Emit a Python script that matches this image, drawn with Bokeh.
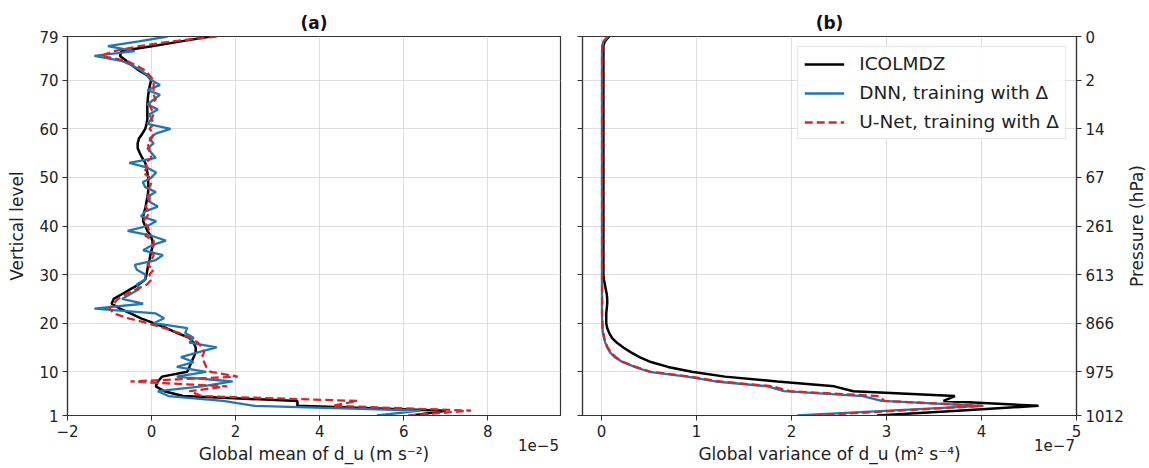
import math
from bokeh.plotting import figure
from bokeh.models import Range1d, FixedTicker, LinearAxis, Label
from bokeh.layouts import row
from bokeh.embed import file_html
from bokeh.resources import INLINE

# ---------------- data (levels 1..79) ----------------
levels = list(range(1, 80))

# Global mean of d_u, in units of 1e-5 m s^-2
mean_icolmdz = [6.2, 7.0, 3.47, 3.47, 0.75, 0.3, 0.1, 0.15, 0.25, 0.85,
                0.9, 0.95, 1.0, 1.05, 1.05, 1.0, 0.9, 0.6, 0.35, 0.05,
                -0.25, -0.5, -0.75, -0.95, -0.9, -0.7, -0.5, -0.3, -0.15, -0.12,
                -0.1, -0.08, -0.05, -0.03, 0.0, 0.03, 0.02, -0.02, -0.1, -0.15,
                -0.2, -0.2, -0.17, -0.14, -0.12, -0.1, -0.08, -0.08, -0.08, -0.08,
                -0.1, -0.12, -0.15, -0.22, -0.28, -0.33, -0.33, -0.3, -0.22, -0.15,
                -0.12, -0.1, -0.1, -0.1, -0.1, -0.09, -0.08, -0.06, -0.04, -0.01,
                -0.1, -0.3, -0.45, -0.6, -0.75, -0.72, 0.0, 0.7, 1.4]
mean_dnn = [5.36, 6.4, 2.45, 1.7, 0.4, 0.15, 1.2, 1.93, 0.6, 1.3,
            0.6, 1.0, 0.7, 1.1, 1.55, 0.9, 1.0, 0.8, 0.85, 0.05,
            0.3, 0.1, -1.36, -0.2, -0.7, -0.5, -0.3, -0.35, -0.15, -0.15,
            -0.35, -0.4, 0.1, 0.27, -0.2, 0.0, 0.34, 0.0, -0.57, -0.1,
            0.11, -0.25, -0.15, 0.15, -0.05, -0.1, 0.1, -0.15, -0.21, 0.0,
            0.11, -0.1, -0.53, 0.1, 0.0, -0.1, 0.05, -0.05, 0.1, 0.45,
            -0.1, 0.0, -0.05, 0.15, -0.1, 0.05, 0.2, -0.1, 0.2, 0.0,
            -0.1, -0.25, -0.45, -0.72, -1.36, -0.4, -1.04, -0.3, 0.38]
mean_unet = [6.1, 7.6, 4.3, 4.9, 1.2, 0.9, 1.8, -0.5, 2.05, 1.4,
             1.3, 1.25, 1.2, 1.25, 1.2, 1.1, 0.9, 0.65, 0.3, -0.1,
             -0.55, -0.9, -1.0, -0.9, -0.8, -0.6, -0.35, -0.1, 0.0, -0.05,
             0.05, -0.1, 0.0, 0.05, 0.0, 0.05, 0.05, -0.15, -0.05, -0.1,
             -0.2, -0.1, -0.05, -0.15, -0.05, -0.05, -0.1, -0.05, 0.0, -0.05,
             -0.2, -0.1, -0.15, 0.0, -0.05, -0.05, -0.1, 0.0, 0.05, -0.05,
             0.05, 0.0, 0.05, 0.0, -0.05, 0.1, 0.05, 0.05, 0.05, 0.05,
             -0.05, -0.15, -0.35, -0.6, -1.2, -0.9, -0.3, 0.5, 1.55]

# Global variance of d_u, in units of 1e-7 m^2 s^-4
var_icolmdz = [2.9, 3.75, 4.6, 3.6, 3.72, 2.65, 2.45, 1.85, 1.3, 0.95,
               0.7, 0.52, 0.4, 0.31, 0.23, 0.16, 0.11, 0.08, 0.06, 0.05,
               0.05, 0.05, 0.055, 0.06, 0.06, 0.055, 0.045, 0.035, 0.025, 0.02,
               0.02, 0.02, 0.02, 0.02, 0.02, 0.02, 0.02, 0.02, 0.02, 0.02,
               0.02, 0.02, 0.02, 0.02, 0.02, 0.02, 0.02, 0.02, 0.02, 0.02,
               0.02, 0.02, 0.02, 0.02, 0.02, 0.02, 0.02, 0.02, 0.02, 0.02,
               0.02, 0.02, 0.02, 0.02, 0.02, 0.02, 0.02, 0.02, 0.02, 0.02,
               0.02, 0.02, 0.02, 0.02, 0.02, 0.02, 0.02, 0.035, 0.08]
var_dnn = [2.06, 3.03, 4.0, 2.95, 2.75, 1.92, 1.75, 1.2, 0.9, 0.5,
           0.35, 0.22, 0.14, 0.09, 0.06, 0.04, 0.025, 0.015, 0.01, 0.008,
           0.006, 0.005, 0.005, 0.005, 0.005, 0.005, 0.005, 0.005, 0.005, 0.005,
           0.005, 0.005, 0.005, 0.005, 0.005, 0.005, 0.005, 0.005, 0.005, 0.005,
           0.005, 0.005, 0.005, 0.005, 0.005, 0.005, 0.005, 0.005, 0.005, 0.005,
           0.005, 0.005, 0.005, 0.005, 0.005, 0.005, 0.005, 0.005, 0.005, 0.005,
           0.005, 0.005, 0.005, 0.005, 0.005, 0.005, 0.005, 0.005, 0.005, 0.005,
           0.005, 0.005, 0.005, 0.005, 0.005, 0.006, 0.008, 0.02, 0.07]
var_unet = [2.24, 3.13, 4.02, 2.98, 2.92, 1.98, 1.8, 1.25, 0.93, 0.52,
            0.36, 0.23, 0.15, 0.1, 0.065, 0.045, 0.03, 0.02, 0.012, 0.01,
            0.007, 0.006, 0.006, 0.006, 0.006, 0.006, 0.006, 0.006, 0.006, 0.006,
            0.006, 0.006, 0.006, 0.006, 0.006, 0.006, 0.006, 0.006, 0.006, 0.006,
            0.006, 0.006, 0.006, 0.006, 0.006, 0.006, 0.006, 0.006, 0.006, 0.006,
            0.006, 0.006, 0.006, 0.006, 0.006, 0.006, 0.006, 0.006, 0.006, 0.006,
            0.006, 0.006, 0.006, 0.006, 0.006, 0.006, 0.006, 0.006, 0.006, 0.006,
            0.006, 0.006, 0.006, 0.006, 0.006, 0.006, 0.008, 0.02, 0.07]

level_ticks = [1, 10, 20, 30, 40, 50, 60, 70, 79]
pressure_labels = ["1012", "975", "866", "613", "261", "67", "14", "2", "0"]
mean_ticks = [-2, 0, 2, 4, 6, 8]
var_ticks = [0, 1, 2, 3, 4, 5]

FONT = "DejaVu Sans"
C_BLACK = "#000000"
C_BLUE = "#1f77b4"
C_RED = "#d62728"
SPINE = "#333333"
FIG_H = 468
FRAME_W1 = 493
FRAME_W2 = 494
BORDER_L1 = 67
BORDER_L2 = 11
BORDER_R2 = 73
WIDTH1 = BORDER_L1 + FRAME_W1 + 11
WIDTH2 = 1149 - WIDTH1


def style_axis(ax):
    ax.axis_line_color = SPINE
    ax.axis_line_width = 1.2
    ax.major_tick_line_color = SPINE
    ax.major_tick_out = 5
    ax.major_tick_in = 0
    ax.minor_tick_line_color = None
    ax.major_label_text_font = FONT
    ax.major_label_text_font_size = "15px"
    ax.major_label_text_color = "#222222"
    ax.major_label_standoff = 4
    ax.axis_label_text_font = FONT
    ax.axis_label_text_font_size = "17px"
    ax.axis_label_text_font_style = "normal"
    ax.axis_label_text_color = "#222222"


def bare_axis(ax):
    style_axis(ax)
    ax.axis_line_color = None
    ax.major_tick_line_color = None
    ax.major_tick_out = 0


def base_figure(width, title, xr, bl, br):
    p = figure(width=width, height=FIG_H, output_backend="svg", toolbar_location=None,
               x_range=xr, y_range=Range1d(1, 79), title=title,
               min_border_left=bl, min_border_right=br, min_border_top=36, min_border_bottom=53)
    p.title.align = "center"
    p.title.text_font = FONT
    p.title.text_font_size = "17px"
    p.title.text_font_style = "bold"
    p.title.text_color = "#111111"
    p.title.standoff = 8
    p.outline_line_color = SPINE
    p.outline_line_width = 1.2
    p.outline_line_alpha = 1.0
    p.background_fill_color = "white"
    p.border_fill_color = "white"
    for ax in p.axis:
        style_axis(ax)
    p.xgrid.grid_line_color = "#dedede"
    p.ygrid.grid_line_color = "#dedede"
    p.xgrid.grid_line_width = 1
    p.ygrid.grid_line_width = 1
    p.yaxis.ticker = FixedTicker(ticks=level_ticks)
    return p


def add_offset_axis(p, frame_w, offset_text, label):
    # second bottom axis (pixel range) carrying the "1e-N" multiplier and the axis title
    p.extra_x_ranges = {"px": Range1d(0, frame_w)}
    pos = frame_w - 22
    ax = LinearAxis(x_range_name="px", ticker=FixedTicker(ticks=[pos]),
                    major_label_overrides={pos: offset_text}, axis_label=label)
    bare_axis(ax)
    ax.major_label_standoff = -1
    ax.axis_label_standoff = -10
    p.add_layout(ax, "below")


# ---------------- panel (a) ----------------
p1 = base_figure(WIDTH1, "(a)", Range1d(-2, 9.73), BORDER_L1, 11)
p1.xaxis.ticker = FixedTicker(ticks=mean_ticks)
p1.xaxis.major_label_overrides = {t: str(t).replace("-", "\u2212") for t in mean_ticks}
p1.yaxis.axis_label = "Vertical level"
p1.yaxis.axis_label_standoff = 9
add_offset_axis(p1, FRAME_W1, "1e\u22125", "Global mean of d_u (m s\u207b\u00b2)")

p1.line(mean_icolmdz, levels, line_color=C_BLACK, line_width=2.5)
p1.line(mean_dnn, levels, line_color=C_BLUE, line_width=2.3)
p1.line(mean_unet, levels, line_color=C_RED, line_width=2.3, line_dash="8 4")

# ---------------- panel (b) ----------------
p2 = base_figure(WIDTH2, "(b)", Range1d(-0.2, 5.0), BORDER_L2, BORDER_R2)
p2.xaxis.ticker = FixedTicker(ticks=var_ticks)
p2.yaxis.major_label_text_font_size = "0px"
p2.yaxis.major_label_overrides = {t: "" for t in level_ticks}
p2.yaxis.major_label_standoff = 0
add_offset_axis(p2, FRAME_W2, "1e\u22127", "Global variance of d_u (m\u00b2 s\u207b\u2074)")

right_ax = LinearAxis(ticker=FixedTicker(ticks=level_ticks),
                      major_label_overrides=dict(zip(level_ticks, pressure_labels)))
style_axis(right_ax)
p2.add_layout(right_ax, "right")

# right-hand axis title, reading upwards, centred on the frame (canvas coordinates)
p2.add_layout(Label(x=WIDTH2 - 13, y=36 + 379 / 2, x_units="canvas", y_units="canvas",
                    text="Pressure (hPa)", angle=math.pi / 2, text_align="center",
                    text_baseline="middle", text_font=FONT, text_font_size="17px",
                    text_color="#222222"), "right")

p2.line(var_icolmdz, levels, line_color=C_BLACK, line_width=2.5, legend_label="ICOLMDZ")
p2.line(var_dnn, levels, line_color=C_BLUE, line_width=2.3, legend_label="DNN, training with \u0394")
p2.line(var_unet, levels, line_color=C_RED, line_width=2.3, line_dash="8 4",
        legend_label="U-Net, training with \u0394")

lg = p2.legend[0]
lg.location = "top_right"
lg.margin = 10
lg.padding = 6
lg.spacing = 8
lg.glyph_width = 40
lg.glyph_height = 20
lg.label_standoff = 15
lg.label_text_font = FONT
lg.label_text_font_size = "18.5px"
lg.label_text_color = "#222222"
lg.border_line_color = "#cccccc"
lg.border_line_width = 1
lg.background_fill_alpha = 0.85

layout = row(p1, p2, spacing=0)
open("out.html", "w").write(file_html(layout, INLINE))
